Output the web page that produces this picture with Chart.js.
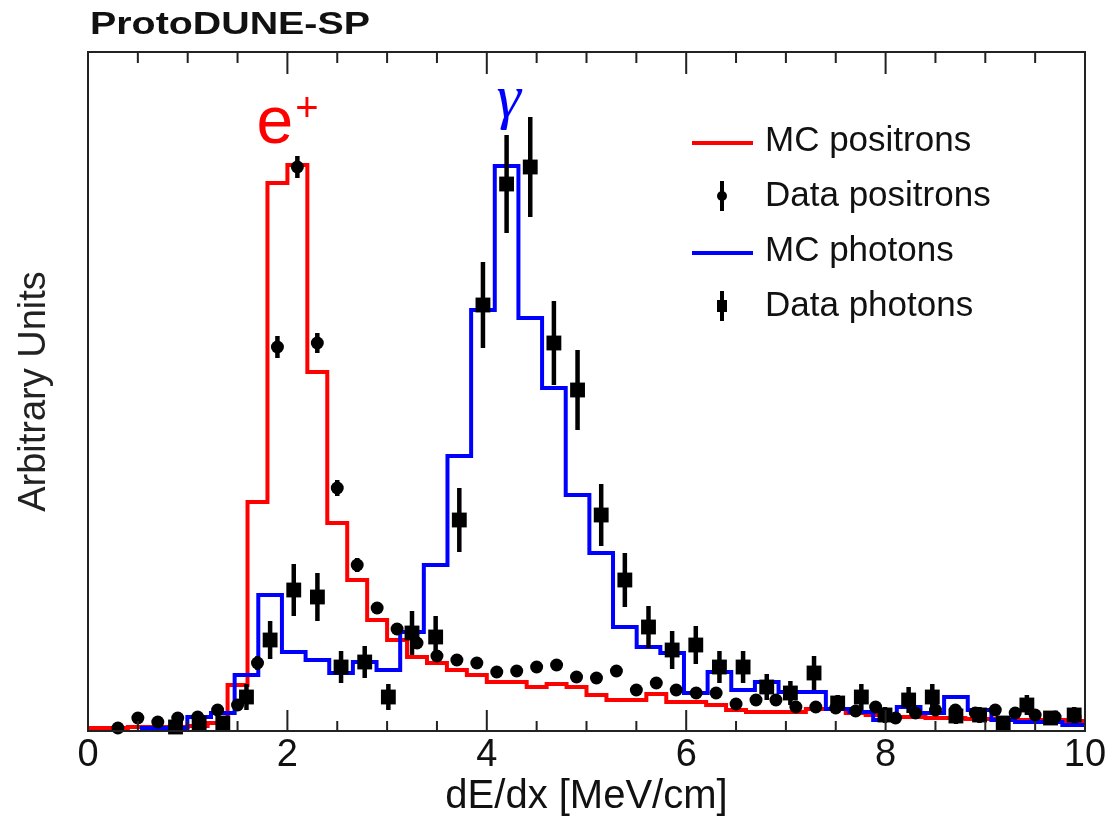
<!DOCTYPE html>
<html>
<head>
<meta charset="utf-8">
<script src="https://cdn.jsdelivr.net/npm/chart.js@4.4.0/dist/chart.umd.min.js"></script>
<style>
  html, body { margin: 0; padding: 0; background: #fff; }
</style>
</head>
<body>
<canvas id="dedx" width="1109" height="817"></canvas>
<script>
// positrons: 0.2 MeV/cm bins starting at 0
const posBinLo = 0, posBinWidth = 0.2;
const mcPositrons = [3, 3, 4, 4, 4, 5, 8, 46, 229, 548,
  566, 359, 208, 151, 111, 91, 74, 68, 61, 56,
  49, 49, 44, 47, 44, 36, 31, 31, 37, 29,
  29, 26, 21, 19, 19, 19, 22, 22, 18, 16,
  14, 14, 13, 13, 12, 12, 11, 11, 11, 10];
const dataPositrons = [null, 3, 13, 9, 13, 14, 21, 26, 68, 384,
  564, 388, 243, 166, 123, 102, 88, 75, 71, 68,
  59, 60, 64, 66, 54, 53, 60, 41, 48, 41,
  38, 38, 27, 31, 31, 24, 24, 23, 20, 24,
  13, 18, 21, 21, 18, 21, 18, 16, 14, 14];
const dataPositronErr = [null, 3, 4, 4, 4, 4, 5, 5, 7, 11,
  11, 10, 8, 7, 6, 6, 6, 6, 6, 6,
  5, 5, 5, 5, 5, 5, 5, 5, 5, 5,
  5, 5, 4, 4, 4, 4, 4, 4, 4, 4,
  3, 4, 4, 4, 4, 4, 4, 4, 3, 3];

// photons come with their own (slightly wider) binning
const phoBinLo = 0.522, phoBinWidth = 0.2372;
const mcPhotons = [3, 3, 14, 18, 56, 136, 79, 71, 58, 69,
  61, 99, 166, 275, 421, 565, 413, 343, 236, 178,
  104, 84, 78, 38, 59, 41, 49, 39, 39, 22,
  19, 11, 24, 18, 34, 21, 11, 9, 9, 6];
const dataPhotons = [null, 4, 8, 8, 34, 91, 141, 134, 64, 69,
  34, 98, 94, 211, 426, 547, 564, 388, 341, 216,
  151, 104, 81, 86, 64, 64, 44, 38, 58, 28,
  34, 16, 31, 34, 15, 16, 8, 26, 13, 16];
const dataPhotonErr = [null, 3, 4, 4, 13, 19, 26, 24, 16, 16,
  13, 22, 21, 32, 43, 49, 50, 42, 40, 31,
  27, 21, 19, 19, 16, 16, 13, 12, 17, 8,
  13, 8, 13, 13, 8, 8, 6, 10, 6, 8];

const xTickLabels = [0, 2, 4, 6, 8, 10];
const yMax = 679;

const FONT = "'Liberation Sans', Arial, Helvetica, sans-serif";

// step histogram: one point per left bin edge + closing edge
const histPoints = (lo, w, vals) => {
  const pts = vals.map((v, i) => ({x: lo + i * w, y: v}));
  pts.push({x: lo + vals.length * w, y: vals[vals.length - 1]});
  return pts;
};
const binPoints = (lo, w, vals, errs) =>
  vals.map((v, i) => ({x: lo + (i + 0.5) * w, y: v, err: errs[i]})).filter(p => p.y !== null);

const errorBars = {
  id: 'errorBars',
  beforeDatasetDraw(chart, args) {
    const ds = chart.data.datasets[args.index];
    if (!ds.errorBars) return;
    const {ctx, scales: {x, y}} = chart;
    ctx.save();
    ctx.strokeStyle = '#000';
    ctx.lineWidth = 4.5;
    ds.data.forEach(p => {
      const px = x.getPixelForValue(p.x);
      ctx.beginPath();
      ctx.moveTo(px, y.getPixelForValue(p.y - p.err));
      ctx.lineTo(px, y.getPixelForValue(p.y + p.err));
      ctx.stroke();
    });
    ctx.restore();
  }
};

// ROOT style frame with inward ticks top and bottom
const frame = {
  id: 'frame',
  afterDatasetsDraw(chart) {
    const {ctx, chartArea: a, scales: {x}} = chart;
    ctx.save();
    ctx.strokeStyle = '#222';
    ctx.lineWidth = 2;
    ctx.strokeRect(a.left, a.top, a.right - a.left, a.bottom - a.top);
    for (let i = 1; i < 20; i++) {
      const px = x.getPixelForValue(i * 0.5);
      const len = i % 4 === 0 ? 21 : 10;
      ctx.beginPath();
      ctx.moveTo(px, a.bottom);
      ctx.lineTo(px, a.bottom - len);
      ctx.moveTo(px, a.top);
      ctx.lineTo(px, a.top + len + 1);
      ctx.stroke();
    }
    ctx.restore();
  }
};

const decorations = {
  id: 'decorations',
  afterDraw(chart) {
    const {ctx, chartArea: a, scales: {x, y}} = chart;
    const ds = chart.data.datasets;
    ctx.save();

    // experiment label, wide bold
    ctx.fillStyle = '#111';
    ctx.font = 'bold 32px ' + FONT;
    ctx.textBaseline = 'alphabetic';
    const txt = 'ProtoDUNE-SP';
    const w = ctx.measureText(txt).width;
    ctx.translate(a.left + 2, a.top - 18);
    ctx.scale(280 / w, 1);
    ctx.fillText(txt, 0, 0);
    ctx.setTransform(1, 0, 0, 1, 0, 0);

    // peak labels
    ctx.fillStyle = '#ff0000';
    ctx.font = '66px ' + FONT;
    ctx.textAlign = 'left';
    const ex = x.getPixelForValue(1.69), ey = y.getPixelForValue(588);
    ctx.fillText('e', ex, ey);
    const ew = ctx.measureText('e').width;
    ctx.font = '40px ' + FONT;
    ctx.fillText('+', ex + ew + 2, ey - 22);

    ctx.fillStyle = '#0000ff';
    ctx.font = 'italic 62px "Liberation Serif", "DejaVu Serif", serif';
    ctx.textAlign = 'center';
    ctx.fillText('\u03b3', x.getPixelForValue(4.22), y.getPixelForValue(614));

    // legend
    ctx.font = '35px ' + FONT;
    ctx.textAlign = 'left';
    ctx.textBaseline = 'middle';
    const lx = a.right - 393;
    ds.forEach((d, i) => {
      const ly = a.top + 89 + i * 55;
      ctx.strokeStyle = d.borderColor;
      ctx.fillStyle = d.borderColor;
      if (d.errorBars) {
        const cx = lx + 30;
        ctx.lineWidth = 4;
        ctx.beginPath();
        ctx.moveTo(cx, ly - 15);
        ctx.lineTo(cx, ly + 15);
        ctx.stroke();
        if (d.pointStyle === 'rect') {
          ctx.fillRect(cx - 5, ly - 6, 10, 12);
        } else {
          ctx.beginPath();
          ctx.arc(cx, ly, 5, 0, Math.PI * 2);
          ctx.fill();
        }
      } else {
        ctx.lineWidth = 4;
        ctx.beginPath();
        ctx.moveTo(lx, ly + 2);
        ctx.lineTo(lx + 61, ly + 2);
        ctx.stroke();
      }
      ctx.fillStyle = '#111';
      ctx.fillText(d.label, lx + 73, ly);
    });
    ctx.restore();
  }
};

new Chart(document.getElementById('dedx'), {
  type: 'line',
  data: {
    datasets: [
      {
        label: 'MC positrons',
        data: histPoints(posBinLo, posBinWidth, mcPositrons),
        borderColor: '#ff0000',
        borderWidth: 4,
        stepped: true,
        pointRadius: 0,
        fill: false,
        order: 2
      },
      {
        label: 'Data positrons',
        type: 'scatter',
        data: binPoints(posBinLo, posBinWidth, dataPositrons, dataPositronErr),
        errorBars: true,
        pointStyle: 'circle',
        pointRadius: 6.5,
        backgroundColor: '#000',
        borderColor: '#000',
        borderWidth: 0,
        clip: false,
        order: 0
      },
      {
        label: 'MC photons',
        data: histPoints(phoBinLo, phoBinWidth, mcPhotons),
        borderColor: '#0000ff',
        borderWidth: 4,
        stepped: true,
        pointRadius: 0,
        fill: false,
        order: 1
      },
      {
        label: 'Data photons',
        type: 'scatter',
        data: binPoints(phoBinLo, phoBinWidth, dataPhotons, dataPhotonErr),
        errorBars: true,
        pointStyle: 'rect',
        pointRadius: 10.5,
        backgroundColor: '#000',
        borderColor: '#000',
        borderWidth: 0,
        clip: false,
        order: 0
      }
    ]
  },
  options: {
    responsive: false,
    animation: false,
    events: [],
    layout: {padding: {top: 52, right: 24, left: 0, bottom: 0}},
    plugins: {legend: {display: false}, tooltip: {enabled: false}},
    scales: {
      x: {
        type: 'linear',
        min: 0,
        max: 10,
        afterBuildTicks: s => { s.ticks = xTickLabels.map(v => ({value: v})); },
        afterFit: s => { s.height = 86; },
        grid: {display: false, drawTicks: false},
        border: {display: false},
        ticks: {font: {family: FONT, size: 38}, color: '#111', padding: 2, maxRotation: 0, autoSkip: false},
        title: {display: true, text: 'dE/dx [MeV/cm]', font: {family: FONT, size: 40, lineHeight: 1}, color: '#111', padding: {top: 0, bottom: 0}}
      },
      y: {
        min: 0,
        max: yMax,
        afterFit: s => { s.width = 88; },
        ticks: {display: false},
        grid: {display: false, drawTicks: false},
        border: {display: false},
        title: {display: true, text: 'Arbitrary Units', font: {family: FONT, size: 38, lineHeight: 1}, color: '#222', padding: {top: 16, bottom: 0}}
      }
    }
  },
  plugins: [errorBars, frame, decorations]
});
</script>
</body>
</html>
